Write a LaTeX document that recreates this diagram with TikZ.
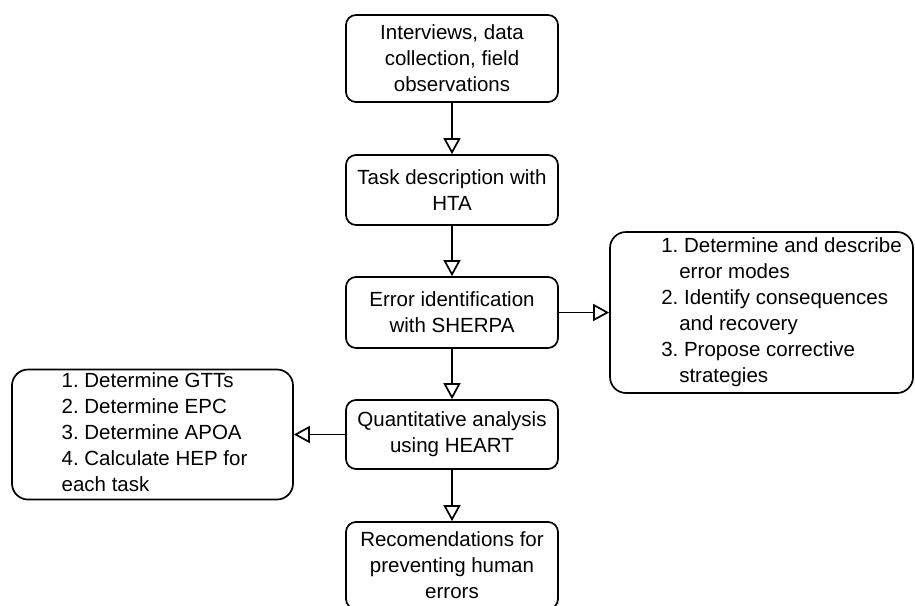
\documentclass[tikz,border=0pt]{standalone}
\usepackage{fontspec}
\setmainfont{Liberation Sans}
\usetikzlibrary{arrows.meta,positioning}
\frenchspacing

\begin{document}
\begin{tikzpicture}[
  x=1pt,y=-1pt,
  font=\fontsize{20.5}{26}\selectfont,
  box/.style={draw,line width=1.7pt,rounded corners=10pt,minimum width=212pt,align=center,inner sep=2pt},
  listbox/.style={draw,line width=1.7pt,rounded corners=16pt,inner sep=0pt},
  flow/.style={line width=1.7pt,-{Triangle[open,length=16pt,width=17pt]}}
]
  \useasboundingbox (0,0) rectangle (915,605);

  % main column
  \node[box,minimum height=87pt] (intv) at (452,58.5) {Interviews, data\\collection, field\\observations};
  \node[box,minimum height=70pt] (task) at (452,190) {Task description with\\HTA};
  \node[box,minimum height=71pt] (sherpa) at (452,312.5) {Error identification\\with SHERPA};
  \node[box,minimum height=69pt] (heart) at (452,434.5) {Quantitative analysis\\using HEART};
  \node[box,minimum height=87pt] (recom) at (452,565.5) {Recomendations for\\preventing human\\errors};

  % side lists
  \node[listbox,minimum width=303pt,minimum height=161pt] (modes) at (761.5,312.5) {%
    \begin{tabular}{@{\hspace{40pt}}l@{}}
      1. Determine and describe\\
      \hspace*{18pt}error modes\\
      2. Identify consequences\\
      \hspace*{18pt}and recovery\\
      3. Propose corrective\\
      \hspace*{18pt}strategies
    \end{tabular}};
  \node[listbox,minimum width=281pt,minimum height=125pt] (steps) at (152.5,434.5) {%
    \begin{tabular}{@{\hspace{4pt}}l@{}}
      1. Determine GTTs\\
      2. Determine EPC\\
      3. Determine APOA\\
      4. Calculate HEP for\\
      each task
    \end{tabular}};

  \draw[flow] (intv) -- (task);
  \draw[flow] (task) -- (sherpa);
  \draw[flow] (sherpa) -- (heart);
  \draw[flow] (heart) -- (recom);
  \draw[flow] (sherpa) -- (modes);
  \draw[flow] (heart) -- (steps);
\end{tikzpicture}
\end{document}
